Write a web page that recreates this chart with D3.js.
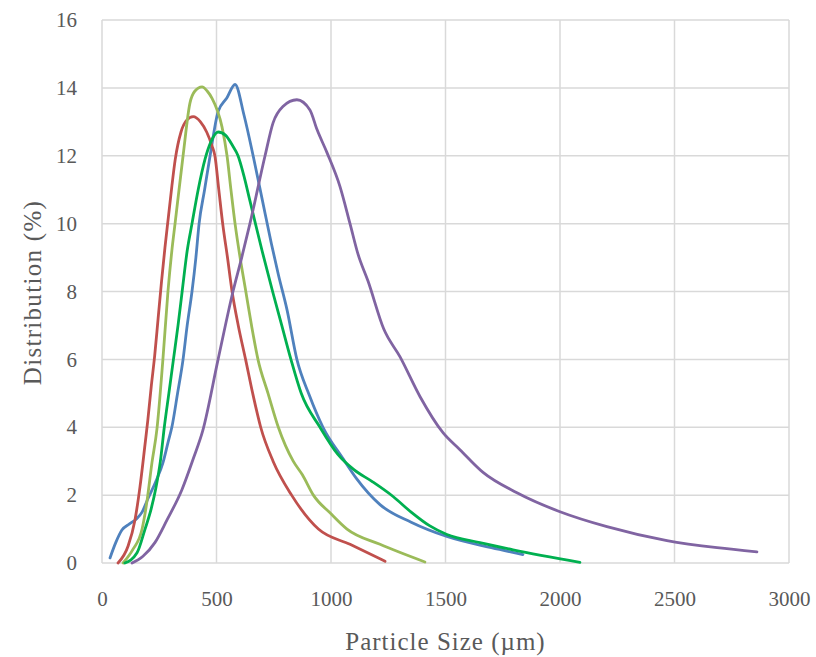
<!DOCTYPE html>
<html>
<head>
<meta charset="utf-8">
<script src="https://cdn.jsdelivr.net/npm/d3@7"></script>
<style>
  body { margin: 0; background: #fff; }
  text { font-family: "Liberation Serif", serif; fill: #595959; }
</style>
</head>
<body>
<div id="chart"></div>
<script>
var xTicks = [0, 500, 1000, 1500, 2000, 2500, 3000];
var yTicks = [0, 2, 4, 6, 8, 10, 12, 14, 16];

// [particle size (um), distribution (%)]
var blue = [[35,0.15],[60,0.6],[87,0.97],[120,1.15],[150,1.3],[175,1.5],[201,1.9],[235,2.4],[266,2.95],[290,3.6],[305,4],[330,5],[354,6],[372,7],[393,8],[410,9],[424,10],[448,11],[472,12],[507,13.3],[545,13.7],[581,14.1],[620,13.2],[660,12],[700,10.7],[740,9.4],[770,8.5],[808,7.46],[851,6],[905,4.95],[965,4],[1050,3.1],[1110,2.5],[1214,1.72],[1350,1.2],[1506,0.78],[1700,0.45],[1838,0.25]];
var red = [[70,0],[114,0.5],[144,1.27],[166,2.25],[188,3.5],[200,4.2],[215,5.2],[230,6.1],[245,7.2],[260,8.3],[275,9.3],[290,10.2],[305,11.1],[320,11.9],[345,12.7],[370,13.05],[398,13.15],[430,13],[457,12.7],[480,12.3],[493,12],[510,11],[527,10],[548,9],[568,8],[595,7],[627,6],[658,5],[693,4],[747,3],[828,2],[945,1],[1083,0.55],[1236,0.05]];
var lightGreen = [[92,0],[135,0.4],[175,1.0],[196,1.8],[218,2.95],[240,3.95],[266,6],[288,8],[305,9.2],[319,10],[354,12],[384,13.55],[405,13.9],[437,14.03],[460,13.9],[480,13.7],[524,12.85],[546,12],[563,11],[581,10],[603,9],[628,8],[653,7],[681,6],[725,5],[770,4],[835,3],[875,2.6],[923,2],[1000,1.45],[1070,1],[1214,0.55],[1410,0.03]];
var green = [[100,0],[153,0.3],[188,1.0],[215,1.6],[235,2.2],[255,3],[272,4],[292,5],[312,6],[332,7],[350,8],[372,9.2],[393,10],[420,11],[450,11.9],[475,12.4],[507,12.7],[540,12.6],[570,12.3],[594,12],[620,11.4],[645,10.7],[670,10],[699,9.2],[745,8],[785,7],[825,6],[870,5],[952,4],[1030,3.2],[1100,2.75],[1180,2.4],[1271,1.96],[1350,1.5],[1430,1.1],[1506,0.84],[1650,0.6],[1795,0.39],[2087,0.02]];
var purple = [[131,0],[179,0.2],[231,0.6],[284,1.27],[349,2.16],[400,3.1],[440,3.9],[507,6],[572,8],[610,9],[646,10],[712,12],[747,12.97],[790,13.45],[851,13.65],[908,13.35],[939,12.77],[982,12.1],[1039,11.1],[1083,10],[1118,9.1],[1162,8.3],[1230,6.9],[1301,6.08],[1389,4.9],[1489,3.84],[1563,3.34],[1664,2.67],[1812,2.07],[2000,1.51],[2205,1.07],[2467,0.66],[2686,0.45],[2860,0.33]];

var series = [
  {name: "blue", color: "#4f81bd", values: blue},
  {name: "red", color: "#c0504d", values: red},
  {name: "lightGreen", color: "#9bbb59", values: lightGreen},
  {name: "green", color: "#00b050", values: green},
  {name: "purple", color: "#8064a2", values: purple}
];

var width = 816,
    height = 657,
    margin = {top: 20, right: 27, bottom: 94, left: 102},
    innerW = width - margin.left - margin.right,
    innerH = height - margin.top - margin.bottom;

var svg = d3.select("#chart")
  .append("svg")
  .attr("width", width)
  .attr("height", height)
  .append("g")
  .attr("transform", `translate(${margin.left},${margin.top})`);

var xScale = d3.scaleLinear().domain([0, 3000]).range([0, innerW]);
var yScale = d3.scaleLinear().domain([0, 16]).range([innerH, 0]);

// grid
svg.append("g")
  .attr("class", "grid")
  .selectAll("line.h")
  .data(yTicks)
  .enter().append("line")
  .attr("x1", 0).attr("x2", innerW)
  .attr("y1", d => yScale(d)).attr("y2", d => yScale(d))
  .style("stroke", "#d9d9d9").style("stroke-width", 1.5);

svg.append("g")
  .attr("class", "grid")
  .selectAll("line.v")
  .data(xTicks)
  .enter().append("line")
  .attr("y1", 0).attr("y2", innerH)
  .attr("x1", d => xScale(d)).attr("x2", d => xScale(d))
  .style("stroke", "#d9d9d9").style("stroke-width", 1.5);

// axes (labels only, lines come from the grid)
var xAxis = d3.axisBottom(xScale).tickValues(xTicks).tickFormat(d3.format("d")).tickSize(0).tickPadding(28);
var yAxis = d3.axisLeft(yScale).tickValues(yTicks).tickSize(0).tickPadding(25);

svg.append("g")
  .attr("class", "x axis")
  .attr("transform", `translate(0,${innerH})`)
  .call(xAxis)
  .call(g => g.select(".domain").remove())
  .selectAll("text")
  .style("font-family", "Liberation Serif, serif")
  .style("font-size", "21px")
  .style("fill", "#595959");

svg.append("g")
  .attr("class", "y axis")
  .call(yAxis)
  .call(g => g.select(".domain").remove())
  .selectAll("text")
  .style("font-family", "Liberation Serif, serif")
  .style("font-size", "21px")
  .style("fill", "#595959");

var line = d3.line()
  .x(d => xScale(d[0]))
  .y(d => yScale(d[1]))
  .curve(d3.curveMonotoneX);

svg.selectAll(".series")
  .data(series)
  .enter().append("path")
  .attr("class", "series")
  .attr("d", d => line(d.values))
  .style("fill", "none")
  .style("stroke", d => d.color)
  .style("stroke-width", 2.8)
  .style("stroke-linejoin", "round")
  .style("stroke-linecap", "round");

svg.append("text")
  .attr("x", innerW / 2)
  .attr("y", innerH + 87)
  .attr("text-anchor", "middle")
  .style("font-size", "25px")
  .style("letter-spacing", "1px")
  .text("Particle Size (\u00b5m)");

svg.append("text")
  .attr("transform", `translate(${-61},${innerH / 2 + 1}) rotate(-90)`)
  .attr("text-anchor", "middle")
  .style("font-size", "25px")
  .style("letter-spacing", "1.3px")
  .text("Distribution (%)");
</script>
</body>
</html>
